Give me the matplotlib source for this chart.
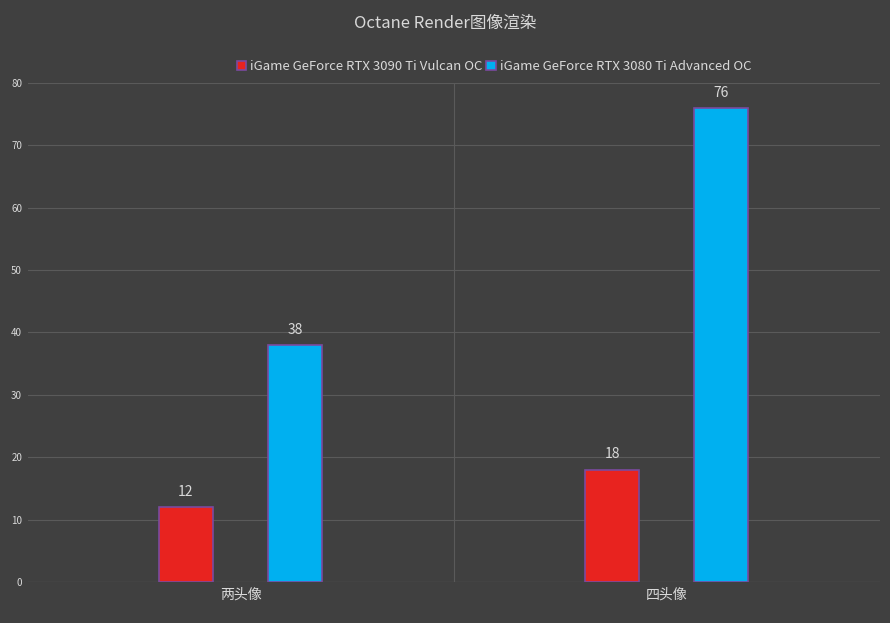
import matplotlib
matplotlib.use("Agg")
import matplotlib.pyplot as plt
from matplotlib import font_manager as fm
import numpy as np
import glob

fam = None
for f in fm.fontManager.ttflist:
    if "CJK" in f.name and ("SC" in f.name or fam is None):
        fam = f.name
if fam is None:
    for p in glob.glob("/usr/share/fonts/**/*CJK*", recursive=True):
        try:
            fm.fontManager.addfont(p)
            fam = fm.FontProperties(fname=p).get_name()
            break
        except Exception:
            pass
plt.rcParams["font.family"] = [fam or "Noto Sans CJK SC", "DejaVu Sans"]

categories = ["两头像", "四头像"]
series_names = ["iGame GeForce RTX 3090 Ti Vulcan OC", "iGame GeForce RTX 3080 Ti Advanced OC"]
vals_3090 = [12, 18]
vals_3080 = [38, 76]
yticks = [0, 10, 20, 30, 40, 50, 60, 70, 80]

bg = "#404040"
txt = "#d9d9d9"
fig = plt.figure(figsize=(8.9, 6.23), dpi=100, facecolor=bg)
ax = fig.add_axes([0.031, 0.066, 0.958, 0.801], facecolor=bg)

x = np.arange(len(categories))
w = 0.127
colors = ["#e8231f", "#00b0f0"]
for i, (vals, off) in enumerate([(vals_3090, -0.129), (vals_3080, 0.127)]):
    bars = ax.bar(x + off, vals, w, color=colors[i], edgecolor="#7a4aa0", linewidth=1.2,
                  label=series_names[i], zorder=3)
    for b, v in zip(bars, vals):
        ax.text(b.get_x() + b.get_width() / 2, v + 1.3, str(v), ha="center", va="bottom",
                color=txt, fontsize=10)

ax.set_xlim(-0.5, 1.5)
ax.set_ylim(0, 80)
ax.set_yticks(yticks)
ax.set_yticklabels([str(t) for t in yticks], fontsize=7, color=txt)
ax.set_xticks(x)
ax.set_xticklabels(categories, fontsize=10, color=txt)
ax.tick_params(length=0, pad=4)
ax.grid(axis="y", color="#5a5a5a", linewidth=0.8, zorder=0)
ax.axvline(0.5, color="#5a5a5a", linewidth=0.8, zorder=0)
for s in ax.spines.values():
    s.set_visible(False)
ax.axhline(0, color="#6a6a6a", linewidth=0.8, zorder=1)

fig.text(0.5, 0.962, "Octane Render图像渲染", ha="center", va="center", color=txt, fontsize=12)
fig.legend(loc="center", bbox_to_anchor=(0.555, 0.893), ncol=2, frameon=False,
           fontsize=9.5, labelcolor=txt, handlelength=0.7, handleheight=0.7,
           handletextpad=0.3, columnspacing=0.3)

fig.savefig("out.png", dpi=100, facecolor=bg)
